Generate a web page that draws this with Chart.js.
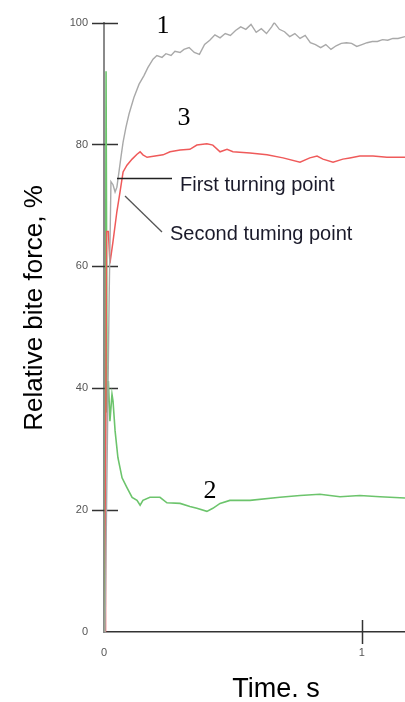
<!DOCTYPE html>
<html>
<head>
<meta charset="utf-8">
<script src="https://cdn.jsdelivr.net/npm/chart.js@4"></script>
<style>
  html, body { margin: 0; padding: 0; background: #fff; }
  #wrap { width: 405px; height: 702px; position: relative; }
</style>
</head>
<body>
<div id="wrap"><canvas id="c" width="405" height="702"></canvas></div>
<script>
// ---- Data ----
const yTicks = [0, 20, 40, 60, 80, 100];
const xTicks = [0, 1];

// Curve 1 (grey)
const t1 = [0.004, 0.02, 0.027, 0.035, 0.043, 0.05, 0.058, 0.066, 0.074, 0.085, 0.097, 0.116, 0.136, 0.155, 0.17, 0.19, 0.205, 0.225, 0.24, 0.26, 0.275, 0.295, 0.31, 0.33, 0.35, 0.37, 0.39, 0.41, 0.43, 0.45, 0.47, 0.49, 0.51, 0.53, 0.55, 0.57, 0.59, 0.61, 0.63, 0.65, 0.66, 0.68, 0.70, 0.72, 0.74, 0.76, 0.78, 0.80, 0.82, 0.84, 0.86, 0.88, 0.90, 0.92, 0.94, 0.96, 0.98, 1.00, 1.02, 1.04, 1.06, 1.08, 1.10, 1.12, 1.14, 1.167];
const v1 = [0, 55, 73.9, 73.4, 72.2, 73, 75.5, 78, 80.4, 82.8, 85, 87.7, 89.9, 91.3, 92.6, 94, 94.6, 94.3, 94.9, 94.6, 95.3, 95.1, 95.6, 95.9, 95.1, 94.8, 96.4, 97.1, 98, 97.5, 98.2, 97.9, 98.7, 99.3, 98.9, 99.7, 98.4, 99, 98.2, 99.3, 100, 98.9, 98.5, 97.7, 98.2, 97.4, 97.9, 96.7, 96.4, 95.9, 96.4, 95.6, 96.2, 96.6, 96.7, 96.6, 96.1, 96.4, 96.7, 96.9, 96.9, 97.2, 97.1, 97.4, 97.4, 97.7];

// Curve 2 (green)
const t2 = [0.004, 0.008, 0.012, 0.017, 0.023, 0.031, 0.035, 0.043, 0.054, 0.070, 0.089, 0.109, 0.128, 0.140, 0.151, 0.178, 0.217, 0.244, 0.295, 0.333, 0.360, 0.399, 0.422, 0.450, 0.488, 0.566, 0.682, 0.760, 0.837, 0.915, 0.992, 1.07, 1.167];
const v2 = [0, 92, 36, 41.2, 34.6, 39, 37.9, 33, 28.6, 25.3, 23.7, 22.1, 21.6, 20.8, 21.6, 22.1, 22.1, 21.2, 21.1, 20.6, 20.3, 19.8, 20.3, 21.1, 21.6, 21.6, 22.1, 22.4, 22.6, 22.2, 22.4, 22.2, 22];

// Curve 3 (red)
const t3 = [0.004, 0.006, 0.010, 0.017, 0.023, 0.035, 0.050, 0.062, 0.074, 0.089, 0.109, 0.128, 0.140, 0.151, 0.167, 0.198, 0.229, 0.256, 0.295, 0.333, 0.360, 0.399, 0.422, 0.450, 0.477, 0.500, 0.566, 0.632, 0.694, 0.760, 0.798, 0.826, 0.849, 0.888, 0.926, 0.953, 0.992, 1.043, 1.097, 1.147, 1.167];
const v3 = [0, 22, 65.7, 65.7, 60.5, 64.1, 69, 72.2, 75.5, 76.6, 77.6, 78.4, 78.8, 78.3, 77.9, 78.1, 78.3, 78.8, 79.1, 79.2, 79.9, 80.1, 79.9, 78.8, 79.2, 78.8, 78.6, 78.3, 77.8, 77.1, 77.8, 78.1, 77.6, 77.1, 77.6, 77.8, 78.1, 78.1, 77.9, 77.9, 77.9];

const curveLabels = ['1', '2', '3'];

function pts(t, v) { return t.map((x, i) => ({ x: x, y: v[i] })); }

const SANS = '"Liberation Sans", Arial, sans-serif';
const SERIF = '"Liberation Serif", "Times New Roman", serif';

const decor = {
  id: 'decor',
  beforeDatasetsDraw(chart) {
    const ctx = chart.ctx;
    const xs = chart.scales.x, ys = chart.scales.y;
    ctx.save();
    ctx.strokeStyle = '#333';
    ctx.lineWidth = 1.5;
    const ax = xs.getPixelForValue(0);
    yTicks.forEach(v => {
      if (v === 0) return;
      const py = Math.round(ys.getPixelForValue(v)) + 0.5;
      ctx.beginPath(); ctx.moveTo(ax - 12, py); ctx.lineTo(ax + 14, py); ctx.stroke();
    });
    const by = ys.getPixelForValue(0);
    xTicks.forEach(v => {
      if (v === 0) return;
      const px = Math.round(xs.getPixelForValue(v)) + 0.5;
      ctx.beginPath(); ctx.moveTo(px, by - 12); ctx.lineTo(px, by + 12); ctx.stroke();
    });
    ctx.restore();
  },
  afterDraw(chart) {
    const ctx = chart.ctx;
    ctx.save();
    // annotation leader lines
    ctx.strokeStyle = '#222';
    ctx.lineWidth = 1.3;
    ctx.beginPath(); ctx.moveTo(117, 178.5); ctx.lineTo(172, 178.5); ctx.stroke();
    ctx.strokeStyle = '#555';
    ctx.beginPath(); ctx.moveTo(125, 196); ctx.lineTo(162, 232); ctx.stroke();

    ctx.fillStyle = '#1a1a2a';
    ctx.textBaseline = 'alphabetic';
    ctx.textAlign = 'left';
    ctx.font = '20px ' + SANS;
    ctx.fillText('First turning point', 180, 191);
    ctx.fillText('Second tuming point', 170, 240);

    // curve numbers
    ctx.fillStyle = '#000';
    ctx.textAlign = 'center';
    ctx.font = '26px ' + SERIF;
    ctx.fillText(curveLabels[0], 163, 33);
    ctx.fillText(curveLabels[2], 184, 125);
    ctx.fillText(curveLabels[1], 210, 498);

    // axis titles
    ctx.font = '27px ' + SANS;
    ctx.fillStyle = '#000';
    ctx.fillText('Time. s', 276, 697);
    ctx.save();
    ctx.translate(42, 308);
    ctx.rotate(-Math.PI / 2);
    ctx.font = '26px ' + SANS;
    ctx.fillText('Relative bite force, %', 0, 0);
    ctx.restore();
    ctx.restore();
  }
};

new Chart(document.getElementById('c'), {
  type: 'scatter',
  data: {
    datasets: [
      { label: '1', data: pts(t1, v1), showLine: true, borderColor: '#a9a9a9', borderWidth: 1.4, pointRadius: 0, tension: 0 },
      { label: '3', data: pts(t3, v3), showLine: true, borderColor: '#ef5a5a', borderWidth: 1.5, pointRadius: 0, tension: 0 },
      { label: '2', data: pts(t2, v2), showLine: true, borderColor: '#6cc46c', borderWidth: 1.6, pointRadius: 0, tension: 0 }
    ]
  },
  options: {
    responsive: false,
    animation: false,
    layout: { padding: { top: 20, right: 0, left: 0, bottom: 0 } },
    plugins: { legend: { display: false }, tooltip: { enabled: false } },
    scales: {
      x: {
        type: 'linear', min: 0, max: 1.167,
        grid: { display: false, drawTicks: false },
        border: { display: true, color: '#333', width: 1.5 },
        afterBuildTicks: s => { s.ticks = xTicks.map(v => ({ value: v })); },
        afterFit: s => { s.height = 70; },
        ticks: { padding: 14, color: '#555', font: { size: 11, family: SANS }, maxRotation: 0, autoSkip: false }
      },
      y: {
        type: 'linear', min: 0, max: 100,
        grid: { display: false, drawTicks: false },
        border: { display: true, color: '#8a8a8a', width: 2 },
        afterBuildTicks: s => { s.ticks = yTicks.map(v => ({ value: v })); },
        afterFit: s => { s.width = 104; },
        ticks: { padding: 16, color: '#555', font: { size: 11, family: SANS } }
      }
    }
  },
  plugins: [decor]
});
</script>
</body>
</html>
